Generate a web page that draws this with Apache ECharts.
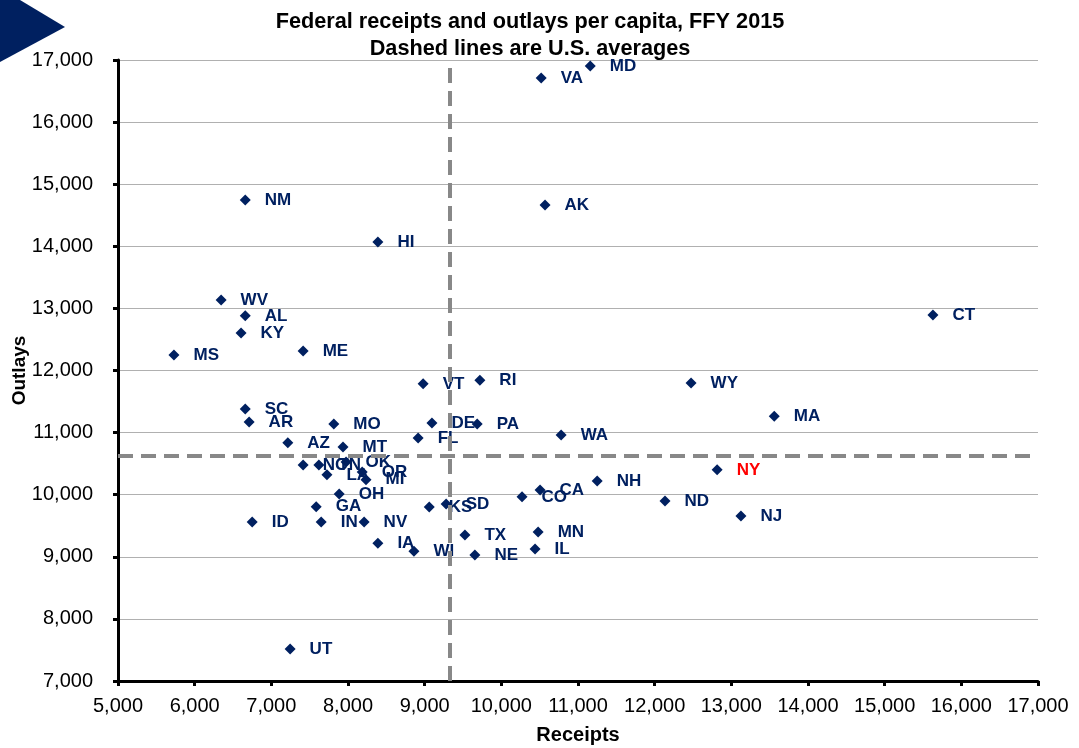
<!DOCTYPE html>
<html>
<head>
<meta charset="UTF-8">
<title>Federal receipts and outlays per capita</title>
<script src="https://cdn.jsdelivr.net/npm/echarts@6/dist/echarts.min.js"></script>
<style>
    html, body { margin: 0; padding: 0; background: #fff; }
    #chart { width: 1079px; height: 748px; }
</style>
</head>
<body>
<div id="chart"></div>
<script type="text/javascript">
    // state codes, receipts per capita, outlays per capita
    let states = ['MD', 'VA', 'NM', 'AK', 'HI', 'WV', 'AL', 'KY', 'MS', 'ME', 'CT',
        'VT', 'RI', 'WY', 'SC', 'MA', 'AR', 'MO', 'DE', 'PA', 'FL', 'WA', 'AZ', 'MT',
        'NC', 'TN', 'LA', 'OK', 'OR', 'MI', 'OH', 'GA', 'ID', 'IN', 'NV', 'IA', 'WI',
        'KS', 'SD', 'TX', 'NE', 'CO', 'CA', 'MN', 'IL', 'NH', 'ND', 'NY', 'NJ', 'UT'];
    let receipts = [11160, 10520, 6660, 10570, 8390, 6345, 6660, 6605, 5730, 7415, 15630,
        8980, 9720, 12475, 6660, 13560, 6710, 7815, 9095, 9685, 8915, 10780, 7215, 7935,
        7415, 7620, 7725, 7975, 8185, 8235, 7885, 7585, 6750, 7650, 8210, 8390, 8860,
        9060, 9280, 9525, 9655, 10270, 10505, 10480, 10440, 11250, 12135, 12815, 13125, 7245];
    let outlays = [16905, 16710, 14745, 14665, 14070, 13135, 12880, 12605, 12250, 12315, 12895,
        11785, 11845, 11800, 11380, 11265, 11170, 11140, 11155, 11140, 10915, 10960, 10835, 10770,
        10480, 10480, 10320, 10525, 10365, 10240, 10010, 9805, 9560, 9560, 9560, 9220, 9090,
        9800, 9850, 9350, 9030, 9965, 10075, 9400, 9125, 10220, 9900, 10400, 9655, 7515];

    let avgReceipts = 9330;
    let avgOutlays = 10625;

    let navy = '#002060';
    let points = [];
    for (let i = 0; i < states.length; i++) {
        let p = {name: states[i], value: [receipts[i], outlays[i]]};
        if (states[i] === 'NY') {
            p.label = {color: '#ff0000'};
        }
        points.push(p);
    }

    let chart = echarts.init(document.getElementById('chart'));
    let option = {
        backgroundColor: '#fff',
        animation: false,
        title: {
            text: 'Federal receipts and outlays per capita, FFY 2015\nDashed lines are U.S. averages',
            left: 530,
            top: 9,
            padding: 0,
            textAlign: 'center',
            textStyle: {
                fontFamily: 'Liberation Sans',
                fontSize: 21.7,
                fontWeight: 'bold',
                color: '#000',
                lineHeight: 27
            }
        },
        graphic: [{
            type: 'polygon',
            shape: {points: [[0, -12], [65, 27], [0, 62]]},
            style: {fill: navy}
        }],
        grid: {
            left: 118,
            right: 41,
            top: 60,
            bottom: 67,
            outerBoundsMode: 'none'
        },
        xAxis: {
            type: 'value',
            min: 5000,
            max: 17000,
            interval: 1000,
            name: 'Receipts',
            nameLocation: 'middle',
            nameGap: 44,
            nameMoveOverlap: false,
            nameTextStyle: {fontFamily: 'Liberation Sans', fontSize: 20, fontWeight: 'bold', color: '#000'},
            axisLine: {lineStyle: {color: '#000', width: 3}},
            axisTick: {show: true, length: 5, lineStyle: {color: '#000', width: 3}},
            axisLabel: {
                margin: 15,
                fontFamily: 'Liberation Sans',
                fontSize: 20,
                color: '#000',
                formatter: function (v) { return v.toLocaleString('en-US'); }
            },
            splitLine: {show: false}
        },
        yAxis: {
            type: 'value',
            min: 7000,
            max: 17000,
            interval: 1000,
            name: 'Outlays',
            nameLocation: 'middle',
            nameGap: 89,
            nameMoveOverlap: false,
            nameTextStyle: {fontFamily: 'Liberation Sans', fontSize: 19, fontWeight: 'bold', color: '#000'},
            axisLine: {show: true, lineStyle: {color: '#000', width: 3}},
            axisTick: {show: true, length: 5, lineStyle: {color: '#000', width: 3}},
            axisLabel: {
                margin: 25,
                fontFamily: 'Liberation Sans',
                fontSize: 20,
                color: '#000',
                formatter: function (v) { return v.toLocaleString('en-US'); }
            },
            splitLine: {show: true, lineStyle: {color: '#b0b0b0', width: 1}}
        },
        series: [{
            type: 'scatter',
            symbol: 'diamond',
            symbolSize: 11,
            itemStyle: {color: navy, opacity: 1},
            label: {
                show: true,
                position: 'right',
                distance: 14,
                formatter: '{b}',
                fontFamily: 'Liberation Sans',
                fontSize: 17,
                fontWeight: 'bold',
                color: navy
            },
            data: points,
            markLine: {
                silent: true,
                symbol: 'none',
                label: {show: false},
                lineStyle: {color: '#888888', type: [15, 8], width: 4, opacity: 1},
                data: [
                    {xAxis: avgReceipts},
                    {yAxis: avgOutlays}
                ]
            }
        }]
    };
    chart.setOption(option);
</script>
</body>
</html>
